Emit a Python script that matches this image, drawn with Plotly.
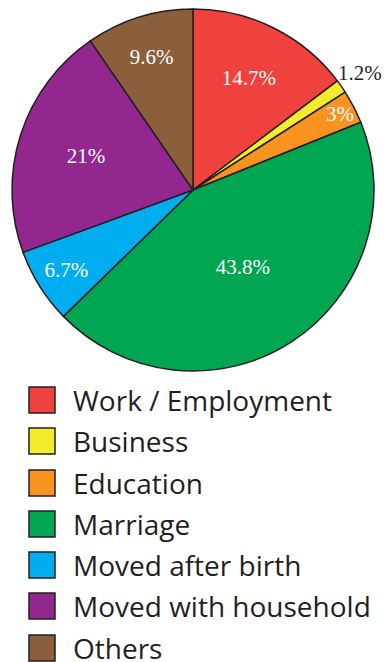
import math
import plotly.graph_objects as go

# reasons for migration, share in percent
labels = ["Work / Employment", "Business", "Education", "Marriage",
          "Moved after birth", "Moved with household", "Others"]
values = [14.7, 1.2, 3, 43.8, 6.7, 21, 9.6]
colors = ["#EF413D", "#F4EB2A", "#F7931E", "#00A651",
          "#00AEEF", "#92278F", "#8B5E3C"]
text_labels = ["14.7%", "1.2%", "3%", "43.8%", "6.7%", "21%", "9.6%"]

W, H = 385, 662
# circle centre and radius in pixels
CX, CY, R = 193, 190, 181

fig = go.Figure()
fig.add_trace(go.Pie(
    labels=labels, values=values, sort=False, direction="clockwise",
    rotation=0,
    marker=dict(colors=colors, line=dict(color="#231F20", width=1.5)),
    text=text_labels, textinfo="text",
    # the thin slice gets its label as an annotation below, so the
    # pie is not shrunk to make room for an outside label
    textposition=["inside", "none", "inside", "inside", "inside",
                  "inside", "inside"],
    insidetextorientation="horizontal",
    insidetextfont=dict(family="Liberation Serif", size=21, color="white"),
    domain=dict(x=[(CX - R) / W, (CX + R) / W],
                y=[1 - (CY + R) / H, 1 - (CY - R) / H]),
    showlegend=False, hoverinfo="label+percent",
))

# outside label of the small "Business" slice, along its middle angle
i = 1
mid = (sum(values[:i]) + values[i] / 2) / sum(values) * 2 * math.pi
lx = CX + (R + 23) * math.sin(mid)
ly = CY - (R + 23) * math.cos(mid)
fig.add_annotation(x=lx / W, y=1 - ly / H, xref="paper", yref="paper",
                   text=text_labels[i], showarrow=False,
                   xanchor="center", yanchor="middle",
                   font=dict(family="Liberation Serif", size=21,
                             color="#231F20"))

# legend drawn by hand so the swatches can be large
row_y = [400, 441, 483, 524, 565, 606, 648]
for lab, col, yy in zip(labels, colors, row_y):
    fig.add_shape(type="rect", xref="paper", yref="paper",
                  x0=29 / W, x1=55 / W, y0=1 - (yy + 13) / H,
                  y1=1 - (yy - 13) / H, fillcolor=col,
                  line=dict(color="#231F20", width=1.5))
    fig.add_annotation(x=71 / W, y=1 - yy / H, xref="paper", yref="paper",
                       text=lab, showarrow=False, xanchor="left",
                       yanchor="middle",
                       font=dict(family="Open Sans", size=28,
                                 color="#231F20"))

fig.update_layout(
    width=W, height=H,
    margin=dict(l=0, r=0, t=0, b=0),
    paper_bgcolor="white", plot_bgcolor="white",
    uniformtext=dict(minsize=21, mode="show"),
)

# drop the default 8px body margin so the figure fills the window
fig.write_html("out.html", config={"displayModeBar": False},
               post_script="document.body.style.margin='0';")
